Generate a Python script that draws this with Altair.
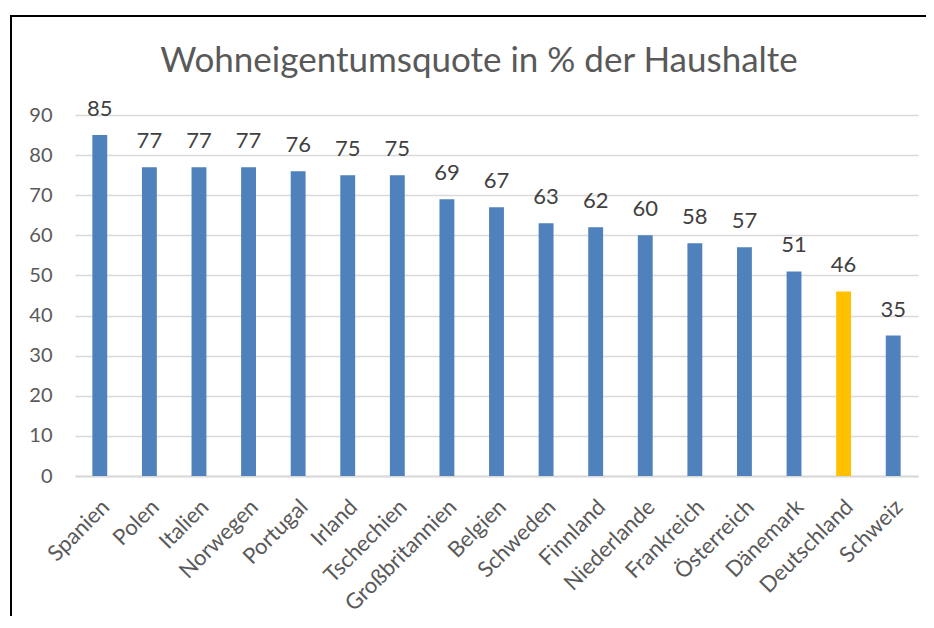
import altair as alt
import pandas as pd

countries = ["Spanien", "Polen", "Italien", "Norwegen", "Portugal", "Irland",
             "Tschechien", "Großbritannien", "Belgien", "Schweden", "Finnland",
             "Niederlande", "Frankreich", "Österreich", "Dänemark", "Deutschland", "Schweiz"]
values = [85, 77, 77, 77, 76, 75, 75, 69, 67, 63, 62, 60, 58, 57, 51, 46, 35]
highlight = ["Deutschland"]
title_text = "Wohneigentumsquote in % der Haushalte"
y_ticks = [0, 10, 20, 30, 40, 50, 60, 70, 80, 90]

df = pd.DataFrame({"land": countries, "quote": values})

FONT = "Lato"
TXT = "#595959"

x_enc = alt.X("land:N", sort=countries, title=None,
              scale=alt.Scale(paddingInner=0.7, paddingOuter=0.35),
              axis=alt.Axis(labelAngle=-45, labelAlign="right", labelBaseline="middle",
                            labelPadding=27, labelOffset=6, ticks=False, domain=True,
                            domainColor="#d9d9d9", domainWidth=2, grid=False,
                            labelFont=FONT, labelFontSize=22, labelColor=TXT))
y_enc = alt.Y("quote:Q", title=None,
              scale=alt.Scale(domain=[0, 90], nice=False),
              axis=alt.Axis(values=y_ticks, ticks=False, domain=False, grid=True,
                            gridColor="#d9d9d9", gridWidth=1.3, labelPadding=23,
                            labelFont=FONT, labelFontSize=20, labelColor=TXT))

bars = alt.Chart(df).mark_bar().encode(
    x=x_enc, y=y_enc,
    color=alt.condition(alt.FieldOneOfPredicate(field="land", oneOf=highlight),
                        alt.value("#FFC000"), alt.value("#4F81BD")),
)

labels = alt.Chart(df).mark_text(font=FONT, fontSize=22, color="#404040",
                                 baseline="alphabetic", dy=-19).encode(
    x=alt.X("land:N", sort=countries), y="quote:Q", text="quote:Q")

one = alt.Data(values=[{"t": title_text}])
title = alt.Chart(one).mark_text(font=FONT, fontSize=35, color=TXT,
                                 baseline="alphabetic", align="center").encode(
    x=alt.value(404), y=alt.value(-43), text="t:N")

frame_left = alt.Chart(one).mark_rule(color="#000000", strokeWidth=2).encode(
    x=alt.value(-64), y=alt.value(-100), y2=alt.value(540))
frame_top = alt.Chart(one).mark_rule(color="#000000", strokeWidth=2).encode(
    x=alt.value(-65), x2=alt.value(880), y=alt.value(-99))

chart = alt.layer(bars, labels, title, frame_left, frame_top).properties(
    width=843, height=361,
    background="white",
    autosize=alt.AutoSizeParams(type="none"),
    padding={"left": 67, "top": 107, "right": 8, "bottom": 140},
).configure_view(stroke=None)

chart.save("out.html", embed_options={"renderer": "svg", "actions": False})
